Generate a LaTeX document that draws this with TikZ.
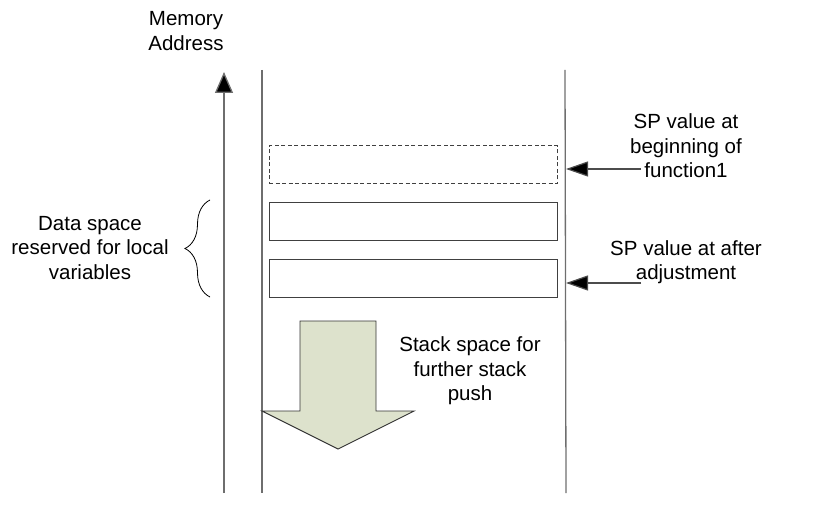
\documentclass[tikz,border=0pt]{standalone}
\usepackage{fontspec}
\setmainfont{Liberation Sans}
\usetikzlibrary{arrows.meta, positioning, decorations.pathreplacing}

\definecolor{pushfill}{RGB}{221,226,204}
\definecolor{linegray}{RGB}{110,110,110}

\begin{document}
\begin{tikzpicture}[x=1pt, y=-1pt,
    txt/.style={align=center, font=\fontsize{20.5}{24.5}\selectfont, inner sep=0pt},
    slot/.style={draw=black!75, line width=1pt, minimum width=288pt, minimum height=38pt, inner sep=0pt},
    wall/.style={draw=linegray, line width=1.3pt},
    pointer/.style={draw=black!70, line width=1.2pt, -{Triangle[length=22pt, width=15pt, fill=black]}}]
    \useasboundingbox (0,0) rectangle (816,521);

    % Define coordinates
    \coordinate (AxisBot) at (224,493);
    \coordinate (AxisTop) at (224,72);
    \coordinate (WallLT) at (262,70);
    \coordinate (WallLB) at (262,493);
    \coordinate (WallRT) at (565,70);
    \coordinate (WallRB) at (566,493);
    \coordinate (SP1) at (641,169);
    \coordinate (SP2) at (641,283);

    % Stack walls and address axis
    \draw[wall] (WallLT) -- (WallLB);
    \draw[wall] (WallRT) -- (WallRB);
    \draw[wall, -{Triangle[length=21pt, width=18pt, fill=black]}] (AxisBot) -- (AxisTop);
    \node[txt] (addr) at (186,31) {Memory\\Address};

    % Stack slots
    \node[slot, dashed, dash pattern=on 4pt off 2.5pt] (old) at (413,165) {};
    \node[slot] (local1) at (413,222) {};
    \node[slot] (local2) at (413,278.5) {};

    % SP pointers
    \draw[pointer] (SP1) -- (SP1 -| WallRB);
    \draw[pointer] (SP2) -- (SP2 -| WallRB);
    \node[txt] (sp1text) at (686,146) {SP value at\\beginning of\\function1};
    \node[txt] (sp2text) at (686,262) {SP value at after\\adjustment};

    % Local variable brace
    \draw[line width=0.8pt, decorate, decoration={brace, amplitude=25pt}] (210,297) -- (210,200) coordinate[midway] (bracemid);
    \node[txt] (datatext) at (90,248) {Data space\\reserved for local\\variables};

    % Push direction
    \filldraw[fill=pushfill, draw=black!80, line width=0.9pt]
        (300,321) -- (376,321) -- (376,411) -- (414,411) -- (338,449) -- (262,411) -- (300,411) -- cycle;
    \node[txt] (pushtext) at (470,371) {Stack space for\\further stack\\push};
\end{tikzpicture}
\end{document}
